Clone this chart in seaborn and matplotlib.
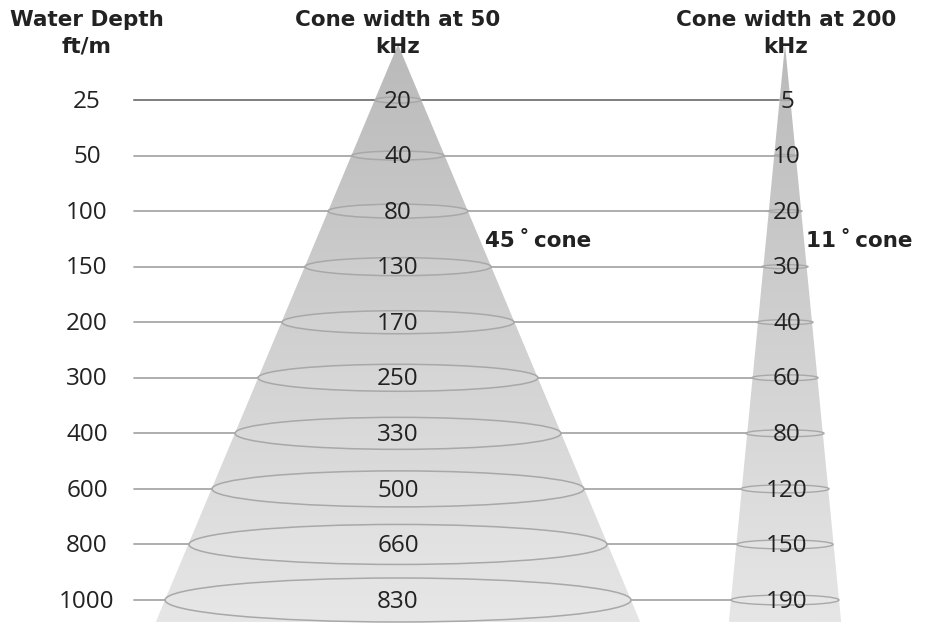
import numpy as np
import pandas as pd
import matplotlib.pyplot as plt
from matplotlib.colors import LinearSegmentedColormap
from matplotlib.patches import Ellipse, Polygon
import seaborn as sns

# Values
depths = ['25', '50', '100', '150', '200', '300', '400', '600', '800', '1000']
width_50 = ['20', '40', '80', '130', '170', '250', '330', '500', '660', '830']
width_200 = ['5', '10', '20', '30', '40', '60', '80', '120', '150', '190']

# Ellipse half sizes per row (drawn size, not the printed value)
half_w_50 = [23, 46, 70, 93, 116, 140, 163, 186, 209, 233]
half_h_50 = [3, 4.5, 7, 9, 11.5, 13.5, 16, 18, 20, 22]
half_w_200 = [6, 11, 17, 23, 28, 33, 39, 44, 48, 54]
half_h_200 = [0.5, 1, 1.5, 2, 2.5, 3, 3.5, 4, 4.5, 5]

CENTER_50 = 398
CENTER_200 = 785
LINE_START = 134
ROW_PX = 55.56
BOTTOM_ROW = 9.395
TEXT_COLOR = '#222222'
HEAD_FONT = 'DejaVu Sans'
NUM_FONT = 'Open Sans'

sns.set_style('white')
fig = plt.figure(figsize=(9.26, 6.26), dpi=100)
ax = fig.add_axes([0, 0, 1, 1])
gradient = np.linspace(0, 1, 256).reshape(-1, 1)
grey_map = LinearSegmentedColormap.from_list('cone', ['#bababa', '#e6e6e6'])


def draw_cone(center, half_w):
    half_bottom = half_w[-1] * (BOTTOM_ROW + 1) / 10
    im = ax.imshow(gradient, cmap=grey_map, aspect='auto', zorder=1,
                   extent=[center - half_bottom, center + half_bottom, BOTTOM_ROW, -1])
    cone = Polygon([(center, -1), (center + half_bottom, BOTTOM_ROW), (center - half_bottom, BOTTOM_ROW)],
                   transform=ax.transData, facecolor='none', edgecolor='none')
    ax.add_patch(cone)
    im.set_clip_path(cone)


draw_cone(CENTER_50, half_w_50)
draw_cone(CENTER_200, half_w_200)

# Leader lines, split around the ellipses
segments = []
for i in range(len(depths)):
    segments.append({'x': LINE_START, 'y': i, 'seg': f'{i}a'})
    segments.append({'x': CENTER_50 - half_w_50[i], 'y': i, 'seg': f'{i}a'})
    segments.append({'x': CENTER_50 + half_w_50[i], 'y': i, 'seg': f'{i}b'})
    segments.append({'x': CENTER_200 - half_w_200[i], 'y': i, 'seg': f'{i}b'})
lines = pd.DataFrame(segments)
sns.lineplot(data=lines, x='x', y='y', units='seg', estimator=None, sort=False,
             color='#a8a8a8', linewidth=1.3, ax=ax, zorder=2)
sns.lineplot(data=lines[lines['y'] == 0], x='x', y='y', units='seg', estimator=None, sort=False,
             color='#7d7d7d', linewidth=1.3, ax=ax, zorder=2)

for i in range(len(depths)):
    ax.add_patch(Ellipse((CENTER_50, i), 2 * half_w_50[i], 2 * half_h_50[i] / ROW_PX,
                         facecolor='#ffffff12', edgecolor='#a8a8a8', linewidth=1.1, zorder=3))
    ax.add_patch(Ellipse((CENTER_200, i), 2 * half_w_200[i], 2 * half_h_200[i] / ROW_PX,
                         facecolor='#ffffff12', edgecolor='#a8a8a8', linewidth=1.0, zorder=3))
    ax.text(87, i + 0.03, depths[i], ha='center', va='center', fontsize=17.5, family=NUM_FONT, color=TEXT_COLOR, zorder=4)
    ax.text(CENTER_50, i + 0.03, width_50[i], ha='center', va='center', fontsize=17.5, family=NUM_FONT, color=TEXT_COLOR, zorder=4)
    ax.text(CENTER_200 + 2, i + 0.03, width_200[i], ha='center', va='center', fontsize=17.5, family=NUM_FONT, color=TEXT_COLOR, zorder=4)

# Headers and cone labels
head = dict(ha='center', va='center', fontsize=15.5, family=HEAD_FONT, weight='bold', color=TEXT_COLOR, zorder=5)
ax.text(87, -1.44, 'Water Depth', **head)
ax.text(87, -0.96, 'ft/m', **head)
ax.text(398, -1.44, 'Cone width at 50', **head)
ax.text(398, -0.96, 'kHz', **head)
ax.text(786, -1.44, 'Cone width at 200', **head)
ax.text(786, -0.96, 'kHz', **head)
cone_label = dict(ha='left', va='center', fontsize=15.5, family=HEAD_FONT, weight='bold', color=TEXT_COLOR, zorder=5)
ax.text(485, 2.54, '45\u2009˚\u2009cone', **cone_label)
ax.text(806, 2.54, '11\u2009˚\u2009cone', **cone_label)

ax.set_xlim(0, 926)
ax.set_ylim(9.468, -1.8)
ax.axis('off')
fig.savefig('out.png', dpi=100, facecolor='white')
